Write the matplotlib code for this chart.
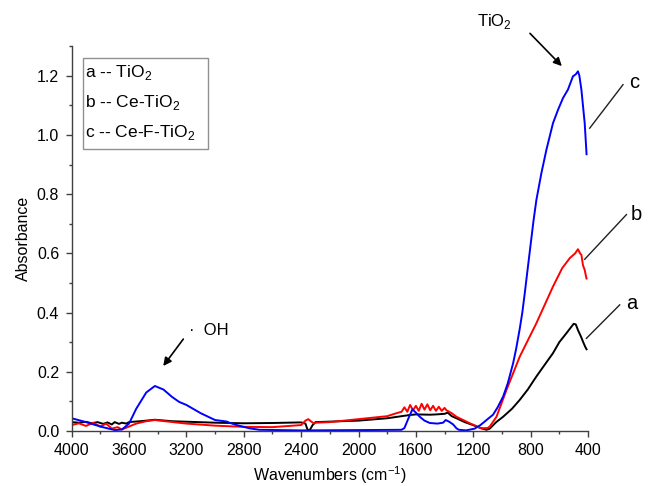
import matplotlib
matplotlib.use('Agg')
import matplotlib.pyplot as plt
from matplotlib.patches import Rectangle
from matplotlib.ticker import MultipleLocator

plt.rcParams['font.family'] = ['Liberation Sans', 'DejaVu Sans']
plt.rcParams['mathtext.fontset'] = 'custom'
plt.rcParams['mathtext.rm'] = 'Liberation Sans'

# curve a -- TiO2 (black)
wn_a = [4000, 3950, 3900, 3860, 3820, 3780, 3750, 3720, 3700, 3670, 3650, 3620, 3600,
        3500, 3420, 3300, 3000, 2800, 2600, 2400, 2370, 2355, 2340, 2320, 2300, 2000,
        1800, 1700, 1643, 1600, 1500, 1458, 1400, 1378, 1350, 1317, 1260, 1202, 1150,
        1108, 1085, 1040, 992, 930, 876, 820, 760, 700, 644, 600, 551, 500, 485, 470,
        450, 435, 420, 410]
abs_a = [0.030, 0.028, 0.031, 0.026, 0.030, 0.024, 0.029, 0.022, 0.030, 0.024, 0.028, 0.025, 0.030,
         0.034, 0.038, 0.033, 0.028, 0.026, 0.027, 0.029, 0.025, 0.004, 0.003, 0.020, 0.030, 0.035,
         0.043, 0.050, 0.054, 0.056, 0.055, 0.056, 0.058, 0.062, 0.050, 0.043, 0.030, 0.020, 0.010,
         0.004, 0.008, 0.030, 0.048, 0.075, 0.105, 0.140, 0.184, 0.225, 0.263, 0.300, 0.330, 0.362, 0.360, 0.341,
         0.320, 0.302, 0.285, 0.276]

# curve b -- Ce-TiO2 (red)
wn_b = [4000, 3950, 3900, 3850, 3800, 3760, 3720, 3680, 3650, 3600, 3550, 3480, 3420,
        3350, 3200, 3000, 2800, 2600, 2400, 2370, 2350, 2330, 2310, 2300, 2200, 2000,
        1800, 1750, 1700, 1680, 1660, 1640, 1620, 1600, 1580, 1560, 1540, 1520, 1500,
        1480, 1460, 1440, 1420, 1400, 1387, 1350, 1317, 1270, 1224, 1180, 1143, 1100,
        1085, 1038, 968, 876, 760, 644, 580, 527, 490, 470, 455, 446, 435, 423, 415, 410]
abs_b = [0.020, 0.026, 0.017, 0.028, 0.015, 0.025, 0.008, 0.013, 0.005, 0.015, 0.025, 0.033, 0.037,
         0.033, 0.025, 0.018, 0.014, 0.013, 0.020, 0.035, 0.040, 0.032, 0.025, 0.028, 0.030, 0.040,
         0.050, 0.058, 0.065, 0.080, 0.065, 0.088, 0.070, 0.085, 0.068, 0.092, 0.072, 0.090, 0.070,
         0.085, 0.068, 0.082, 0.068, 0.078, 0.070, 0.060, 0.048, 0.037, 0.026, 0.017, 0.009, 0.010,
         0.015, 0.048, 0.139, 0.251, 0.364, 0.488, 0.550, 0.584, 0.600, 0.614, 0.600, 0.595, 0.560, 0.544, 0.525, 0.515]

# curve c -- Ce-F-TiO2 (blue)
wn_c = [4000, 3900, 3800, 3700, 3650, 3600, 3550, 3480, 3420, 3360, 3300, 3250, 3200,
        3100, 3000, 2920, 2900, 2850, 2760, 2690, 2400, 2000, 1700, 1680, 1650, 1624,
        1600, 1573, 1540, 1503, 1450, 1410, 1392, 1375, 1364, 1340, 1317, 1300, 1250,
        1190, 1150, 1130, 1100, 1062, 1030, 992, 960, 922, 900, 876, 858, 841, 820, 800, 780, 760,
        725, 690, 644, 609, 574, 540, 505, 485, 470, 460, 446, 423, 410]
abs_c = [0.043, 0.030, 0.015, 0.003, 0.005, 0.025, 0.075, 0.130, 0.152, 0.140, 0.115, 0.098, 0.088,
         0.060, 0.037, 0.032, 0.028, 0.020, 0.009, 0.004, 0.002, 0.003, 0.004, 0.010, 0.045, 0.073,
         0.062, 0.048, 0.035, 0.027, 0.025, 0.028, 0.037, 0.033, 0.030, 0.022, 0.009, 0.004, 0.002,
         0.008, 0.020, 0.028, 0.040, 0.055, 0.080, 0.116, 0.160, 0.229, 0.280, 0.345, 0.400, 0.465, 0.550, 0.630, 0.710, 0.780,
         0.871, 0.950, 1.040, 1.085, 1.125, 1.153, 1.198, 1.205, 1.215, 1.200, 1.153, 1.040, 0.935]

x_ticks = [4000, 3600, 3200, 2800, 2400, 2000, 1600, 1200, 800, 400]
y_ticks = [0.0, 0.2, 0.4, 0.6, 0.8, 1.0, 1.2]

fig = plt.figure(figsize=(6.48, 4.86), dpi=100)
ax = fig.add_axes([0.1106, 0.1132, 0.7968, 0.7918])

ax.plot(wn_a, abs_a, color='black', lw=1.4)
ax.plot(wn_b, abs_b, color='#ff0000', lw=1.4)
ax.plot(wn_c, abs_c, color='#0000ff', lw=1.4)

ax.set_xlim(4000, 400)
ax.set_ylim(0, 1.3)
ax.set_xticks(x_ticks)
ax.set_yticks(y_ticks)
ax.xaxis.set_minor_locator(MultipleLocator(200))
ax.yaxis.set_minor_locator(MultipleLocator(0.1))
ax.set_yticklabels(['%.1f' % v for v in y_ticks])

for s in ['top', 'right']:
    ax.spines[s].set_visible(False)
for s in ['left', 'bottom']:
    ax.spines[s].set_color('#404040')
    ax.spines[s].set_linewidth(1.0)
ax.tick_params(which='major', direction='out', length=4, width=1, color='#404040',
               labelsize=11.5, pad=5)
ax.tick_params(which='minor', direction='out', length=2.5, width=1, color='#404040')

ax.set_xlabel('Wavenumbers (cm$^{-1}$)', fontsize=11.5, labelpad=4)
ax.set_ylabel('Absorbance', fontsize=11.5, labelpad=4)

# legend box
fig.patches.append(Rectangle((82.7 / 648, 1 - 149.3 / 486), 125.6 / 648, 91 / 486,
                             transform=fig.transFigure, fill=False, ec='#909090', lw=1))
labels = ['a -- TiO$_2$', 'b -- Ce-TiO$_2$', 'c -- Ce-F-TiO$_2$']
for i, t in enumerate(labels):
    fig.text(85 / 648, 1 - (77.3 + 29.7 * i) / 486, t, fontsize=12.5, va='baseline')

# annotations
ax.annotate('', xy=(569, 1.226), xytext=(818, 1.35), annotation_clip=False,
            arrowprops=dict(arrowstyle='-|>', color='black', lw=1.2, mutation_scale=12))
ax.text(1050, 1.383, 'TiO$_2$', fontsize=12, ha='center', va='center', clip_on=False)

ax.annotate('', xy=(3373, 0.212), xytext=(3210, 0.318),
            arrowprops=dict(arrowstyle='-|>', color='black', lw=1.2, mutation_scale=12))
ax.text(3180, 0.34, '\u00b7  OH', fontsize=12, ha='left', va='center')

lab_lines = [('c', 388, 1.023, 156, 1.17, 75, 1.176),
             ('b', 423, 0.58, 132, 0.731, 63, 0.73),
             ('a', 411, 0.313, 179, 0.426, 98, 0.432)]
for t, x0, y0, x1, y1, tx, ty in lab_lines:
    ax.plot([x0, x1], [y0, y1], color='#202020', lw=1, clip_on=False)
    ax.text(tx, ty, t, fontsize=14.5, ha='center', va='center', clip_on=False)

fig.savefig('out.png', dpi=100)
